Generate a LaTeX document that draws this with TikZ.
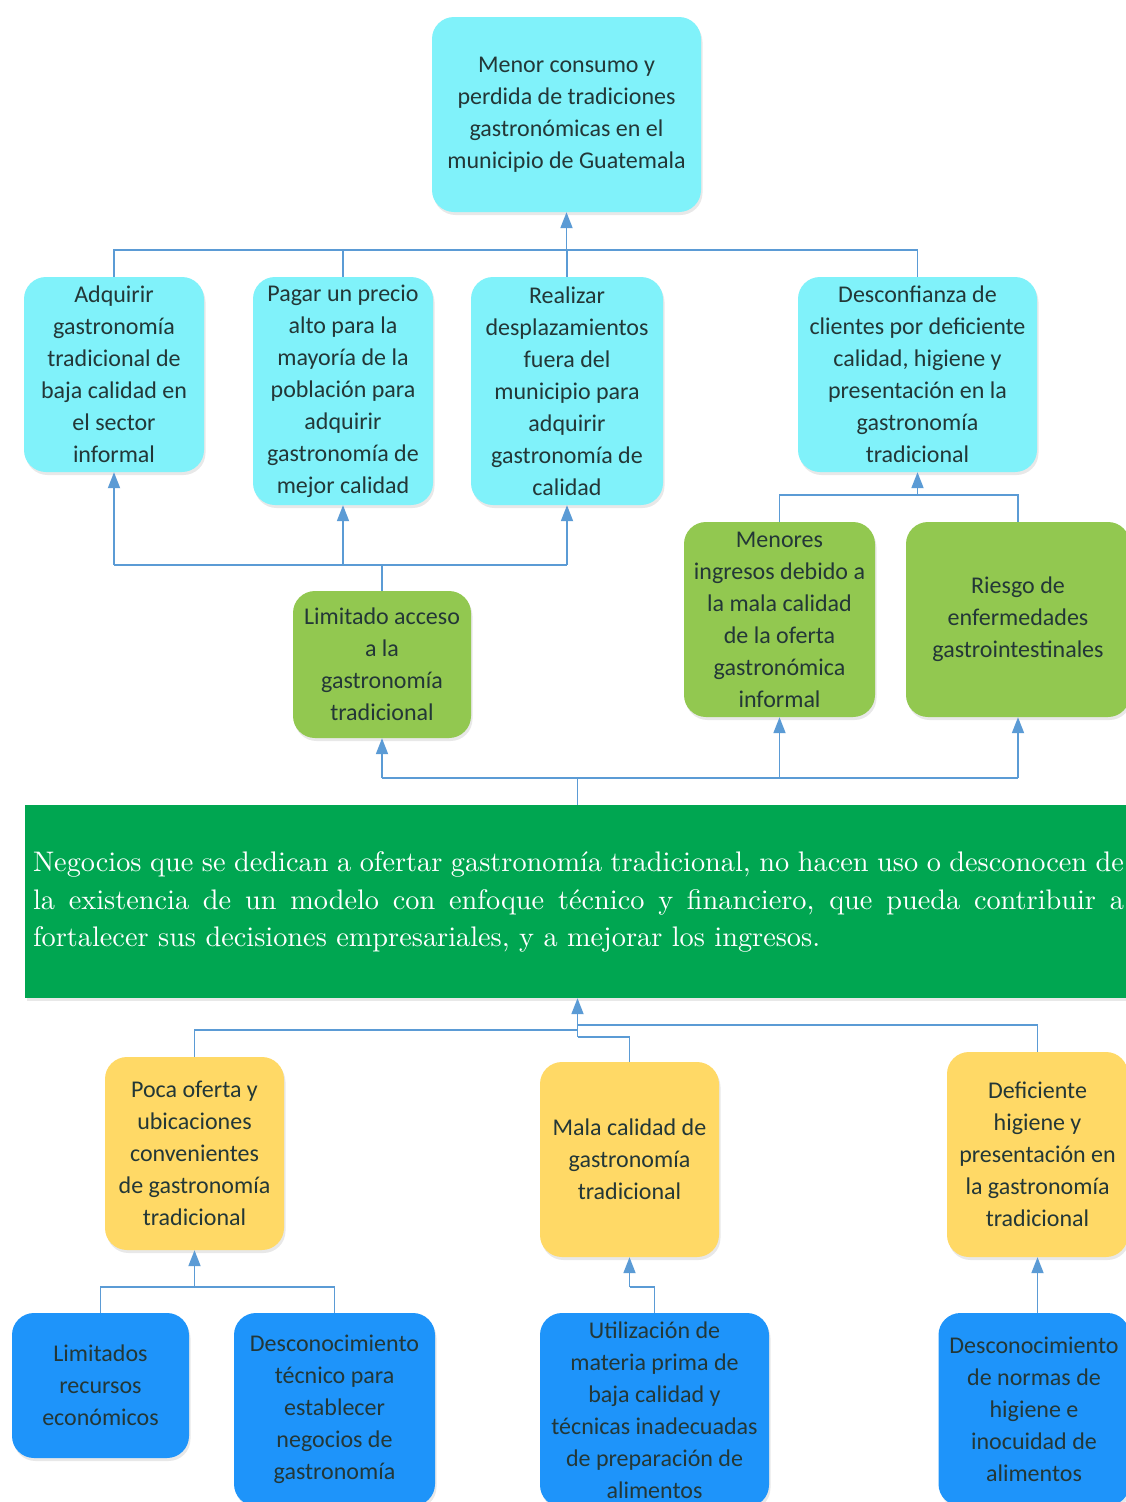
\documentclass[tikz,border=0pt]{standalone}
\usepackage{fontspec}
\setmainfont{Carlito}
\newfontfamily\cmroman{lmroman10-regular}[Extension=.otf]
\usetikzlibrary{arrows.meta,shadows}

\definecolor{cyanfill}{RGB}{128,242,250}
\definecolor{leaffill}{RGB}{146,200,80}
\definecolor{deepgreen}{RGB}{0,166,81}
\definecolor{sunfill}{RGB}{255,217,102}
\definecolor{skyfill}{RGB}{30,148,250}
\definecolor{linkblue}{RGB}{91,155,213}
\definecolor{inktext}{RGB}{35,55,55}

\tikzset{
  box/.style={rounded corners=22pt, inner sep=0pt, align=center,
    text=inktext, font=\fontsize{24}{32}\selectfont,
    drop shadow={opacity=0.18, shadow xshift=1.5pt, shadow yshift=-3pt}},
  effect/.style={box, fill=cyanfill},
  consequence/.style={box, fill=leaffill},
  cause/.style={box, fill=sunfill},
  rootcause/.style={box, fill=skyfill},
  link/.style={draw=linkblue, line width=1.8pt},
  linkarrow/.style={link, -{Triangle[length=16pt,width=12pt]}},
}

\begin{document}
\begin{tikzpicture}[x=1pt,y=-1pt]
\clip (0,0) rectangle (1126,1502);
\fill[white] (0,0) rectangle (1126,1502);

% effects (top)
\node[effect, minimum width=269, minimum height=195] (top) at (566.5,114.5)
  {Menor consumo y\\perdida de tradiciones\\gastronómicas en el\\municipio de Guatemala};
\node[effect, minimum width=180, minimum height=195] (A) at (114,374.5)
  {Adquirir\\gastronomía\\tradicional de\\baja calidad en\\el sector\\informal};
\node[effect, minimum width=180, minimum height=228] (B) at (343,391)
  {Pagar un precio\\alto para la\\mayoría de la\\población para\\adquirir\\gastronomía de\\mejor calidad};
\node[effect, minimum width=192, minimum height=228] (C) at (567,391)
  {Realizar\\desplazamientos\\fuera del\\municipio para\\adquirir\\gastronomía de\\calidad};
\node[effect, minimum width=239, minimum height=195] (D) at (917.5,374.5)
  {Desconfianza de\\clientes por deficiente\\calidad, higiene y\\presentación en la\\gastronomía\\tradicional};

% direct consequences
\node[consequence, minimum width=178, minimum height=147] (L) at (382,664.5)
  {Limitado acceso\\a la\\gastronomía\\tradicional};
\node[consequence, minimum width=191, minimum height=195] (M) at (779.5,619.5)
  {Menores\\ingresos debido a\\la mala calidad\\de la oferta\\gastronómica\\informal};
\node[consequence, minimum width=224, minimum height=195] (R) at (1018,619.5)
  {Riesgo de\\enfermedades\\gastrointestinales};

% central problem
\node[fill=deepgreen, minimum width=1105, minimum height=193, inner sep=0pt,
      drop shadow={opacity=0.18, shadow xshift=1.5pt, shadow yshift=-3pt}] (G) at (577.5,901.5) {};
\node[text=white, text width=1091pt, align=left, inner sep=0pt,
      font=\cmroman\fontsize{28.3}{37.5}\selectfont] (Gtext) at (578.5,902)
  {\spaceskip=0.333em plus 0.6em minus 0.12em
   \hbox to 1091pt{Negocios que se dedican a ofertar gastronomía tradicional, no hacen uso o desconocen de}\par
   \hbox to 1091pt{la existencia de un modelo con enfoque técnico y financiero, que pueda contribuir a}\par
   \hbox{fortalecer sus decisiones empresariales, y a mejorar los ingresos.}};

% causes
\node[cause, minimum width=179, minimum height=193] (P) at (194.5,1153.5)
  {Poca oferta y\\ubicaciones\\convenientes\\de gastronomía\\tradicional};
\node[cause, minimum width=179, minimum height=195] (Ma) at (629.5,1159.5)
  {Mala calidad de\\gastronomía\\tradicional};
\node[cause, minimum width=181, minimum height=205] (Df) at (1037.5,1154.5)
  {Deficiente\\higiene y\\presentación en\\la gastronomía\\tradicional};

% root causes
\node[rootcause, minimum width=177, minimum height=145] (Lr) at (100.5,1385.5)
  {Limitados\\recursos\\económicos};
\node[rootcause, minimum width=201, minimum height=193] (Dt) at (334.5,1409.5)
  {Desconocimiento\\técnico para\\establecer\\negocios de\\gastronomía};
\node[rootcause, minimum width=229, minimum height=194] (U) at (654.5,1410)
  {Utilización de\\materia prima de\\baja calidad y\\técnicas inadecuadas\\de preparación de\\alimentos};
\node[rootcause, minimum width=191, minimum height=193] (N) at (1034,1409.5)
  {Desconocimiento\\de normas de\\higiene e\\inocuidad de\\alimentos};

% junction points
\coordinate (j1) at (566.5,250);
\coordinate (j2) at (382,565);
\coordinate (j3) at (917.5,495);
\coordinate (j4) at (577.5,778);
\coordinate (j5) at (577.5,1030);
\coordinate (j5b) at (577.5,1037);
\coordinate (j5c) at (577.5,1025);
\coordinate (j6) at (194.5,1287);
\coordinate (j7) at (629.5,1287);

% effects -> top
\draw[link] (A.north) -- (A.north |- j1) -- (D.north |- j1) -- (D.north);
\draw[link] (B.north) -- (B.north |- j1);
\draw[link] (C.north) -- (C.north |- j1);
\draw[linkarrow] (top.south |- j1) -- (top.south);

% limited access -> effects
\draw[link] (L.north) -- (j2);
\draw[link] (A.south |- j2) -- (C.south |- j2);
\draw[linkarrow] (A.south |- j2) -- (A.south);
\draw[linkarrow] (B.south |- j2) -- (B.south);
\draw[linkarrow] (C.south |- j2) -- (C.south);

% income / health -> distrust
\draw[link] (M.north) -- (M.north |- j3) -- (R.north |- j3) -- (R.north);
\draw[linkarrow] (j3) -- (D.south);

% central problem -> consequences
\draw[link] (G.north) -- (j4);
\draw[link] (L.south |- j4) -- (R.south |- j4);
\draw[linkarrow] (L.south |- j4) -- (L.south);
\draw[linkarrow] (M.south |- j4) -- (M.south);
\draw[linkarrow] (R.south |- j4) -- (R.south);

% causes -> central problem
\draw[link] (P.north) -- (P.north |- j5) -- (j5);
\draw[link] (j5b) -- (Ma.north |- j5b) -- (Ma.north);
\draw[link] (j5c) -- (Df.north |- j5c) -- (Df.north);
\draw[linkarrow] (j5b) -- (G.south);

% root causes -> causes
\draw[link] (Lr.north) -- (Lr.north |- j6) -- (Dt.north |- j6) -- (Dt.north);
\draw[linkarrow] (j6) -- (P.south);
\draw[link] (U.north) -- (U.north |- j7) -- (j7);
\draw[linkarrow] (j7) -- (Ma.south);
\draw[linkarrow] (Df.south |- N.north) -- (Df.south);
\end{tikzpicture}
\end{document}
